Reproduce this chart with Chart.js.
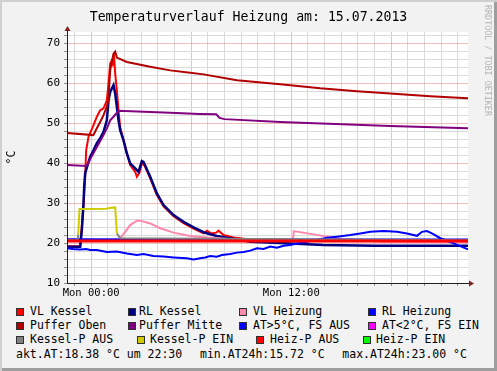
<!DOCTYPE html>
<html>
<head>
<meta charset="utf-8">
<script src="https://cdn.jsdelivr.net/npm/chart.js@4.4.1/dist/chart.umd.min.js"></script>
<style>
  body { margin: 0; background: #fff; }
  #frame {
    position: relative; width: 497px; height: 371px; overflow: hidden;
    background: #F2F2F2;
    box-shadow: inset 2px 2px 0 #CFCFCF, inset -3px -3px 0 #9E9E9E;
    font-family: "DejaVu Sans Mono", monospace; color: #000;
  }
  #chart { position: absolute; left: 0; top: 0; }
  #title { position: absolute; left: 0; top: 8.5px; width: 497px; text-align: center; font-size: 13.2px; white-space: pre; }
  #watermark { position: absolute; left: 483px; top: 5px; writing-mode: vertical-rl; font-size: 8.4px; color: #B4B4B4; white-space: pre; }
  .sw { position: absolute; width: 6px; height: 6px; border: 1px solid #303030; }
  .lt { position: absolute; font-size: 11.5px; white-space: pre; }
</style>
</head>
<body>
<div id="frame">
  <canvas id="chart" width="497" height="300"></canvas>
  <div id="title">Temperaturverlauf Heizung am: 15.07.2013</div>
  <div id="watermark">RRDTOOL / TOBI OETIKER</div>
  <div id="legend"></div>
</div>
<script>
// hours relative to Mon 00:00, value in °C
const vlKessel = [[-1.45, 19.2], [-0.66, 19.2], [-0.45, 30], [-0.36, 36.6], [-0.3, 43.2], [-0.16, 46.6],
  [0.14, 49.5], [0.34, 51.6], [0.54, 53.2], [0.74, 53.7], [0.94, 55.7], [1.04, 59.9], [1.14, 64.9],
  [1.24, 65.7], [1.3, 64.8], [1.38, 66.2], [1.44, 62.4], [1.54, 58.2], [1.64, 53.2], [1.74, 49.0],
  [1.94, 45.7], [2.14, 42.4], [2.34, 39.5], [2.64, 37.8], [2.74, 36.6], [2.9, 37.6], [3.04, 39.9],
  [3.2, 39.4], [3.54, 36.2], [3.94, 32.0], [4.34, 29.2], [4.94, 26.7], [5.54, 25.0], [6.14, 23.6],
  [6.74, 22.4], [6.94, 23.1], [7.2, 22.4], [7.5, 22.6], [7.64, 23.1], [7.94, 22.0], [8.54, 21.4],
  [8.94, 21.2], [9.5, 20.8], [22.6, 20.5]];
const rlKessel = [[-1.45, 19.1], [-0.66, 19.1], [-0.56, 23.2], [-0.46, 30], [-0.42, 34], [-0.36, 37.5],
  [-0.06, 41.6], [0.14, 43.2], [0.34, 45.0], [0.54, 46.2], [0.74, 47.8], [0.94, 50.7], [1.04, 55.7],
  [1.14, 57.8], [1.34, 59.5], [1.44, 57.4], [1.54, 54.1], [1.64, 50.7], [1.74, 48.2], [1.94, 45.7],
  [2.14, 42.4], [2.34, 39.9], [2.64, 38.7], [2.84, 37.8], [3.04, 40.5], [3.14, 40.3], [3.54, 36.6],
  [3.94, 32.4], [4.34, 29.5], [4.94, 27.0], [5.54, 25.3], [6.14, 23.9], [6.74, 22.7], [7.14, 22.2],
  [7.54, 21.75], [8.3, 21.2], [9.54, 20.3], [12, 19.9], [13.9, 19.5], [17, 19.3], [22.6, 19.3]];
const vlHeizung = [[-1.45, 20.5], [1.6, 20.6], [1.74, 21.2], [2.04, 22.8], [2.34, 24.5], [2.74, 25.6],
  [2.94, 25.6], [3.54, 24.9], [4.14, 23.7], [4.94, 22.6], [5.94, 21.75], [6.94, 21.4], [8.3, 21.0],
  [12.1, 20.8], [12.15, 23.0], [14.14, 21.6], [15, 21.0], [17.5, 20.3], [22.6, 20.2]];
const rlHeizung = [[-1.45, 20.9], [10, 20.8], [22.6, 20.8]];
const pufferOben = [[-1.45, 47.5], [0.13, 47.0], [0.34, 48.7], [0.54, 50.3], [0.74, 52.0], [0.94, 54.1],
  [1.04, 56.2], [1.14, 63.3], [1.34, 67.4], [1.44, 67.9], [1.54, 66.4], [2.14, 65.3], [3.54, 64.1],
  [4.74, 63.2], [5.94, 62.6], [6.74, 62.2], [8.74, 60.75], [11.34, 59.7], [13.74, 58.7], [15.94, 58.0],
  [17.94, 57.4], [20.34, 56.75], [22.6, 56.2]];
const pufferMitte = [[-1.45, 39.5], [-0.26, 39.3], [-0.06, 41.0], [0.34, 44.0], [0.74, 47.0], [0.94, 48.7],
  [1.14, 50.7], [1.34, 51.6], [1.64, 53.1], [3.54, 52.8], [4.74, 52.6], [6.5, 52.3], [7.5, 52.2],
  [7.7, 51.3], [8.0, 51.0], [11.34, 50.3], [17.94, 49.3], [22.6, 48.7]];
const atWarm = [[-1.45, 18.7], [-1.1, 18.5], [-0.66, 18.4], [-0.3, 18.5], [-0.06, 18.25], [0.34, 18.25],
  [0.94, 17.75], [1.54, 17.9], [2.14, 17.4], [2.74, 17.0], [3.14, 17.25], [3.74, 16.75], [4.34, 16.6],
  [4.94, 16.4], [5.74, 16.2], [6.14, 15.9], [6.54, 16.2], [6.84, 16.4], [7.14, 16.75], [7.54, 16.6],
  [7.84, 17.0], [8.34, 17.25], [8.74, 17.6], [9.14, 17.75], [9.54, 18.1], [9.94, 18.7], [10.34, 18.5],
  [10.74, 19.1], [11.14, 18.8], [11.54, 19.3], [11.94, 19.5], [12.34, 19.9], [12.94, 20.3], [13.54, 20.75],
  [14.14, 21.3], [14.74, 21.6], [15.54, 22.0], [16.14, 22.4], [16.74, 22.8], [17.54, 23.0], [18.34, 22.8],
  [18.94, 22.4], [19.54, 21.8], [19.84, 22.8], [20.14, 23.0], [20.44, 22.4], [20.94, 21.2], [21.74, 19.9],
  [22.6, 18.4]];
const atCold = [];
const kesselPAus = [[-1.45, 20.7], [-0.8, 20.7], [-0.78, 22.0], null, [1.54, 22.4], [1.74, 21.2], [22.6, 20.7]];
const kesselPEin = [[-0.78, 22.0], [-0.7, 28.5], [0.9, 28.6], [1.2, 28.8], [1.44, 28.9], [1.54, 22.4]];
const heizPAus = [[-1.45, 20.5], [22.6, 20.5]];
const heizPEin = [];

const seriesNames = ['VL Kessel', 'RL Kessel', 'VL Heizung', 'RL Heizung', 'Puffer Oben', 'Puffer Mitte',
  'AT>5°C, FS AUS', 'AT<2°C, FS EIN', 'Kessel-P AUS', 'Kessel-P EIN', 'Heiz-P AUS', 'Heiz-P EIN'];
const seriesData = [vlKessel, rlKessel, vlHeizung, rlHeizung, pufferOben, pufferMitte,
  atWarm, atCold, kesselPAus, kesselPEin, heizPAus, heizPEin];
const seriesColors = ['#FF0000', '#000080', '#FF88AA', '#0000FF', '#B00000', '#800080',
  '#0000FF', '#FF00FF', '#808080', '#CCCC00', '#FF0000', '#00FF00'];
const seriesWidths = [2, 2.5, 2, 2.5, 2, 2, 2, 2, 2, 2, 3, 2];

const xTickHours = [0, 12];
const xTickNames = ['Mon 00:00', 'Mon 12:00'];
const yTickLabels = [10, 20, 30, 40, 50, 60, 70];
const statusLine = ['akt.AT:18.38 °C um 22:30', 'min.AT24h:15.72 °C', 'max.AT24h:23.00 °C'];

// legend layout (pixels)
const legendSwatchX = [[16, 127.7, 239.3, 368.3], [16, 127.7, 239.3, 368.3], [16, 136.7, 256, 363.3]];
const legendTextX = [[30, 139, 253, 382], [30, 139, 253, 382], [30, 150, 270, 376]];
const legendBaseY = [315, 329, 343];
const statusX = [16, 200, 342.3];

const minorGrid = '#DADADA';
const majorGrid = 'rgba(225, 110, 110, 0.45)';

const toPoints = arr => arr.map(p => p === null ? { x: 0.3, y: null } : { x: p[0], y: p[1] });

const plotFrame = {
  id: 'plotFrame',
  beforeDraw(chart) {
    const { ctx, chartArea: a } = chart;
    ctx.save();
    ctx.fillStyle = '#FFFFFF';
    ctx.fillRect(a.left, a.top, a.right - a.left, a.bottom - a.top);
    ctx.restore();
  },
  afterDraw(chart) {
    const { ctx, chartArea: a } = chart;
    const x0 = Math.round(a.left) + 0.5;
    const y0 = Math.round(a.bottom) + 0.5;
    ctx.save();
    ctx.strokeStyle = '#1F1F1F';
    ctx.lineWidth = 1;
    ctx.beginPath();
    ctx.moveTo(x0, a.bottom);
    ctx.lineTo(x0, a.top - 3);
    ctx.moveTo(a.left, y0);
    ctx.lineTo(a.right + 3, y0);
    ctx.stroke();
    ctx.fillStyle = '#801F1F';
    ctx.beginPath();
    ctx.moveTo(x0 - 3, a.top - 1);
    ctx.lineTo(x0 + 3, a.top - 1);
    ctx.lineTo(x0, a.top - 6);
    ctx.closePath();
    ctx.fill();
    ctx.beginPath();
    ctx.moveTo(a.right + 1, y0 - 3);
    ctx.lineTo(a.right + 1, y0 + 3);
    ctx.lineTo(a.right + 6, y0);
    ctx.closePath();
    ctx.fill();
    ctx.restore();
  }
};

const datasets = seriesNames.map((name, i) => ({
  label: name,
  data: toPoints(seriesData[i]),
  borderColor: seriesColors[i],
  backgroundColor: seriesColors[i],
  borderWidth: seriesWidths[i],
  pointRadius: 0,
  tension: 0,
  fill: false,
  spanGaps: false,
  order: seriesNames.length - i
}));

new Chart(document.getElementById('chart'), {
  type: 'line',
  data: { datasets },
  plugins: [plotFrame],
  options: {
    responsive: false,
    animation: false,
    devicePixelRatio: 1,
    layout: { padding: { left: 0, right: 29, top: 32, bottom: 0 } },
    plugins: { legend: { display: false }, tooltip: { enabled: false }, title: { display: false } },
    scales: {
      x: {
        type: 'linear',
        min: -1.45,
        max: 22.6,
        afterFit: s => { s.height = 17; },
        border: { display: false },
        grid: {
          color: c => (c.tick && c.tick.value % 6 === 0) ? majorGrid : minorGrid,
          tickLength: 3,
          tickColor: '#909090'
        },
        ticks: {
          stepSize: 1,
          autoSkip: false,
          maxRotation: 0,
          includeBounds: false,
          padding: 1,
          color: '#000',
          font: { family: 'DejaVu Sans Mono', size: 10.5 },
          callback: v => {
            const k = xTickHours.indexOf(v);
            return k >= 0 ? xTickNames[k] : '';
          }
        }
      },
      y: {
        min: 10,
        max: 72.8,
        afterFit: s => { s.width = 67; },
        border: { display: false },
        grid: {
          color: c => (c.tick && c.tick.value % 10 === 0) ? majorGrid : minorGrid,
          tickLength: 3,
          tickColor: '#909090'
        },
        title: {
          display: true,
          text: '°C',
          color: '#000',
          padding: { top: 5, bottom: 0 },
          font: { family: 'DejaVu Sans Mono', size: 11.5 }
        },
        ticks: {
          stepSize: 2,
          autoSkip: false,
          includeBounds: false,
          padding: 4,
          color: '#000',
          font: { family: 'DejaVu Sans Mono', size: 11 },
          callback: v => yTickLabels.includes(v) ? String(v) : ''
        }
      }
    }
  }
});

// legend below the chart
const legend = document.getElementById('legend');
seriesNames.forEach((name, i) => {
  const row = Math.floor(i / 4), col = i % 4;
  const base = legendBaseY[row];
  const sw = document.createElement('div');
  sw.className = 'sw';
  sw.style.left = legendSwatchX[row][col] + 'px';
  sw.style.top = (base - 7.5) + 'px';
  sw.style.background = seriesColors[i];
  legend.appendChild(sw);
  const t = document.createElement('div');
  t.className = 'lt';
  t.style.left = legendTextX[row][col] + 'px';
  t.style.top = (base - 10.7) + 'px';
  t.textContent = name;
  legend.appendChild(t);
});
statusLine.forEach((txt, i) => {
  const t = document.createElement('div');
  t.className = 'lt';
  t.style.left = statusX[i] + 'px';
  t.style.top = (357.3 - 10.7) + 'px';
  t.textContent = txt;
  legend.appendChild(t);
});
</script>
</body>
</html>
